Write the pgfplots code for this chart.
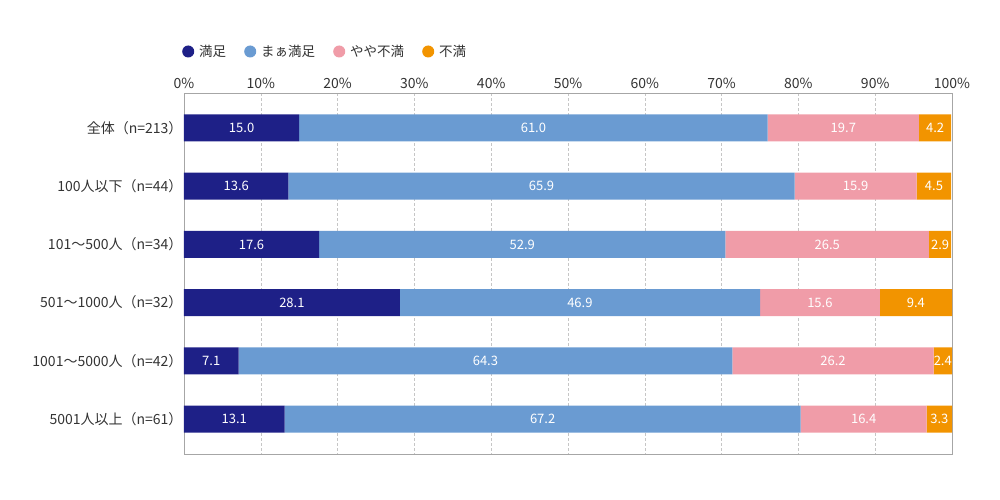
\documentclass[border=0pt]{standalone}
\usepackage{pgfplots}
\usepackage{pgfplotstable}
\pgfplotsset{compat=1.18}
\usepackage{fontspec}
\setmainfont{Noto Sans CJK JP}
\definecolor{cNavy}{HTML}{1E2087}
\definecolor{cBlue}{HTML}{6A9BD2}
\definecolor{cPink}{HTML}{F09CA8}
\definecolor{cOrange}{HTML}{F29400}
\definecolor{cText}{HTML}{333333}
\pgfplotstableread{
y a b c d
0 15.0 61.0 19.7 4.2
1 13.6 65.9 15.9 4.5
2 17.6 52.9 26.5 2.9
3 28.1 46.9 15.6 9.4
4 7.1 64.3 26.2 2.4
5 13.1 67.2 16.4 3.3
}\data
\begin{document}
\begin{tikzpicture}
\useasboundingbox (-184pt,-46pt) rectangle (816pt,454pt);
\begin{axis}[
  scale only axis, width=768pt, height=361pt,
  xbar stacked, bar width=27pt,
  xmin=0, xmax=100, ymin=-0.6, ymax=5.6, y dir=reverse,
  xtick={0,10,...,100},
  xticklabel={\pgfmathprintnumber{\tick}\%},
  xticklabel pos=right,
  /pgf/number format/assume math mode=true,
  ytick={0,...,5},
  yticklabels={全体（n=213）,100人以下（n=44）,101〜500人（n=34）,501〜1000人（n=32）,1001〜5000人（n=42）,5001人以上（n=61）},
  major tick length=0pt,
  ticklabel style={font=\fontsize{14}{16}\selectfont, text=cText},
  xticklabel style={yshift=1pt},
  yticklabel style={xshift=2pt},
  xmajorgrids, grid style={densely dashed, gray!45},
  axis line style={gray!70},
  legend style={at={(-0.0026,1.115)}, anchor=west, draw=none, inner sep=0pt,
    legend columns=-1, font=\fontsize{13.5}{15}\selectfont, text=cText,
    /tikz/every odd column/.append style={column sep=3pt},
    /tikz/every even column/.append style={column sep=16pt}},
  legend image code/.code={\fill[#1, draw=none] (0pt,0pt) circle (6pt);},
]
\addplot[fill=cNavy, draw=none] table[x=a, y=y] {\data};
\addplot[fill=cBlue, draw=none] table[x=b, y=y] {\data};
\addplot[fill=cPink, draw=none] table[x=c, y=y] {\data};
\addplot[fill=cOrange, draw=none] table[x=d, y=y] {\data};
\legend{満足,まぁ満足,やや不満,不満}
\end{axis}
\begin{axis}[
  scale only axis, width=768pt, height=361pt,
  xmin=0, xmax=100, ymin=-0.6, ymax=5.6, y dir=reverse,
  hide axis,
  nodes near coords, point meta=explicit symbolic,
  every node near coord/.style={anchor=center, text=white, font=\fontsize{13}{15}\selectfont},
]
\addplot[draw=none, mark=none] table[x expr=\thisrow{a}/2, y=y, meta=a] {\data};
\addplot[draw=none, mark=none] table[x expr=\thisrow{a}+\thisrow{b}/2, y=y, meta=b] {\data};
\addplot[draw=none, mark=none] table[x expr=\thisrow{a}+\thisrow{b}+\thisrow{c}/2, y=y, meta=c] {\data};
\addplot[draw=none, mark=none] table[x expr=\thisrow{a}+\thisrow{b}+\thisrow{c}+\thisrow{d}/2, y=y, meta=d] {\data};
\end{axis}
\end{tikzpicture}
\end{document}
